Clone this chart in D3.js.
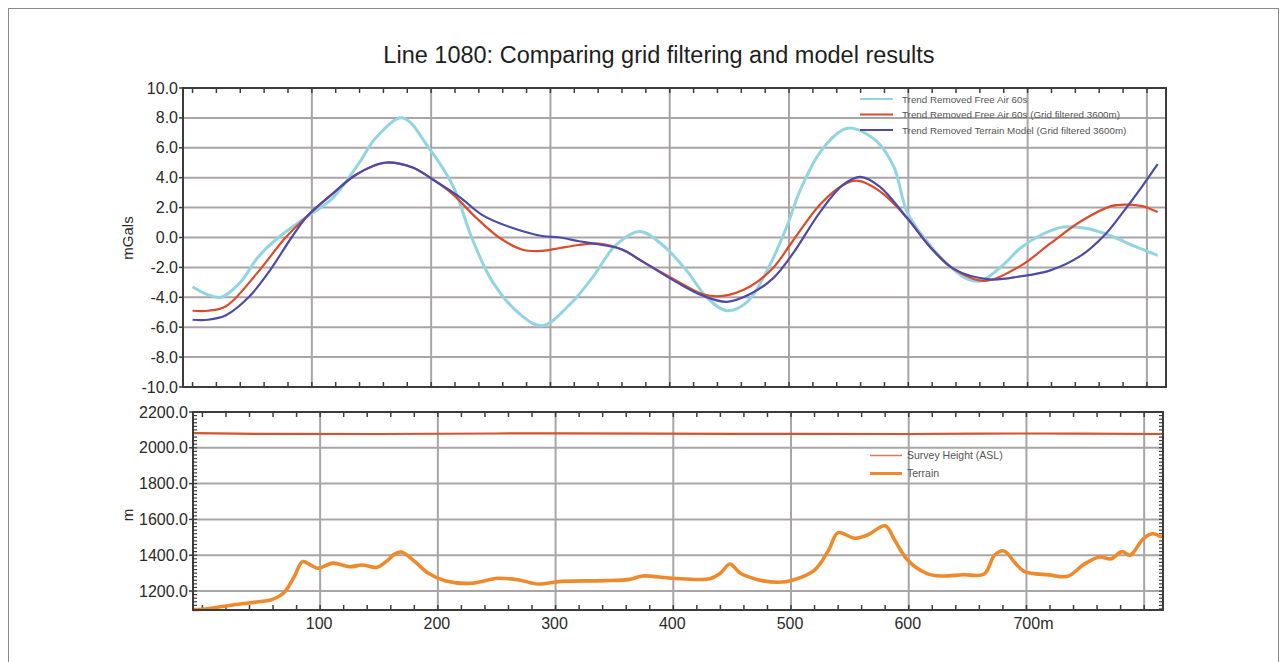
<!DOCTYPE html>
<html><head><meta charset="utf-8">
<script src="https://cdn.jsdelivr.net/npm/d3@7/dist/d3.min.js"></script>
<style>body{margin:0;background:#fff;}svg{display:block;font-family:"Liberation Sans",Arial,sans-serif;}</style>
</head><body>
<svg id="c" width="1287" height="662"></svg>
<script>
// ---------- data ----------
const titleText = "Line 1080: Comparing grid filtering and model results";
const topSeriesNames = ["Trend Removed Free Air 60s","Trend Removed Free Air 60s (Grid filtered 3600m)","Trend Removed Terrain Model (Grid filtered 3600m)"];
const botSeriesNames = ["Survey Height (ASL)","Terrain"];

const freeAirX = [0,12,24,40,55,72,96,117,139,154,176,198,218,234,251,274,293,316,335,355,375,394,414,431,448,465,481,498,509,526,545,554,574,588,599,616,633,650,661,680,694,712,730,750,770,790,809];
const freeAirY = [-3.3,-3.8,-4.0,-3.0,-1.3,0.0,1.4,2.6,4.9,6.7,8.0,6.0,3.5,0.0,-2.9,-5.1,-5.9,-4.5,-2.7,-0.5,0.4,-0.5,-2.2,-4.0,-4.9,-4.3,-2.3,0.7,3.1,5.7,7.2,7.3,6.4,4.7,1.7,-0.3,-1.8,-2.8,-2.9,-1.8,-0.7,0.2,0.7,0.6,0.1,-0.6,-1.2];

const filteredX = [0,13,28,55,78,97,117,137,162,184,201,218,238,257,276,293,308,324,340,360,377,406,428,445,467,487,503,526,545,557,576,599,619,638,663,694,719,745,770,782,796,809];
const filteredY = [-4.9,-4.9,-4.6,-2.3,0.0,1.5,2.9,4.2,5.0,4.7,3.9,2.9,1.3,0.0,-0.8,-0.9,-0.7,-0.5,-0.4,-0.8,-1.6,-2.9,-3.8,-3.9,-3.3,-2.0,-0.25,2.2,3.5,3.8,3.1,1.3,-0.7,-2.1,-2.9,-1.9,-0.4,1.1,2.1,2.2,2.1,1.7];

const modelX = [0,13,28,47,64,83,97,117,137,160,184,201,224,243,266,293,308,324,340,360,377,406,428,448,467,487,503,526,545,560,576,599,619,638,668,694,719,745,765,780,795,809];
const modelY = [-5.5,-5.5,-5.2,-4.0,-2.3,0.0,1.5,2.9,4.2,5.0,4.7,3.9,2.7,1.5,0.7,0.1,0.0,-0.25,-0.45,-0.8,-1.6,-3.0,-3.9,-4.3,-3.8,-2.7,-1.1,1.7,3.5,4.05,3.4,1.3,-0.7,-2.1,-2.8,-2.6,-2.2,-1.2,0.2,1.7,3.3,4.9];

const surveyX = [-8,50,150,300,450,600,700,815];
const surveyY = [2082,2078,2077,2081,2078,2077,2080,2077];

const terrainX = [-8,0,26,48,58,69,78,85,92,98,111,125,136,148,156,163,169,179,192,206,228,251,269,285,305,341,363,374,399,431,440,448,457,471,489,502,520,532,540,554,565,580,588,599,615,628,646,664,673,681,690,698,719,735,749,762,772,781,788,799,807,815];
const terrainY = [1096,1098,1122,1140,1150,1189,1280,1364,1345,1327,1356,1336,1345,1332,1364,1405,1418,1373,1299,1258,1243,1271,1262,1239,1254,1258,1265,1284,1271,1269,1299,1351,1299,1265,1249,1262,1317,1429,1526,1495,1513,1564,1485,1373,1299,1284,1291,1295,1401,1424,1360,1310,1290,1282,1350,1390,1380,1420,1400,1490,1520,1500];

const topYTicks = [-10,-8,-6,-4,-2,0,2,4,6,8,10];
const botYTicks = [1200,1400,1600,1800,2000,2200];
const xTickLabels = [100,200,300,400,500,600,700];
const xGrid = [100,200,300,400,500,600,700,800];

// ---------- layout ----------
const svg = d3.select("#c");
const xT = d3.scaleLinear().domain([-8,816]).range([183,1166]);
const yT = d3.scaleLinear().domain([-10,10]).range([387,88]);
const xB = d3.scaleLinear().domain([-8,816]).range([193,1163]);
const yB = d3.scaleLinear().domain([1094,2200]).range([610,412]);

const gridCol = "#aaa5a5", frameCol = "#3c3c3c", txtCol = "#2a2a2a";

// outer border
svg.append("rect").attr("x",8.5).attr("y",8.5).attr("width",1270).attr("height",700)
  .attr("fill","none").attr("stroke","#8a8a8a").attr("stroke-width",1);

svg.append("text").attr("x",659).attr("y",63).attr("text-anchor","middle")
  .attr("font-size",23.5).attr("fill","#1e1e1e").text(titleText);

function panel(x, y, yTicks, fmt, minorY){
  const g = svg.append("g");
  const [x0,x1] = x.range(), [y0,y1] = [y.range()[1], y.range()[0]];
  g.selectAll(".hg").data(yTicks.filter(v=>y(v)>y0+2 && y(v)<y1-2)).enter().append("line")
    .attr("x1",x0).attr("x2",x1).attr("y1",d=>y(d)).attr("y2",d=>y(d))
    .attr("stroke",gridCol).attr("stroke-width",2);
  g.selectAll(".vg").data(xGrid).enter().append("line")
    .attr("x1",d=>x(d)).attr("x2",d=>x(d)).attr("y1",y0).attr("y2",y1)
    .attr("stroke",gridCol).attr("stroke-width",2);
  const xt = d3.range(0,820,20);
  g.selectAll(".xtb").data(xt).enter().append("line")
    .attr("x1",d=>x(d)).attr("x2",d=>x(d)).attr("y1",y1).attr("y2",y1-5)
    .attr("stroke",frameCol).attr("stroke-width",1.5);
  g.selectAll(".xtt").data(xt).enter().append("line")
    .attr("x1",d=>x(d)).attr("x2",d=>x(d)).attr("y1",y0).attr("y2",y0+5)
    .attr("stroke",frameCol).attr("stroke-width",1.5);
  if(minorY){
    const mt = d3.range(1100,2200,20);
    g.selectAll(".ytl").data(mt).enter().append("line")
      .attr("x1",x0).attr("x2",x0+4).attr("y1",d=>y(d)).attr("y2",d=>y(d))
      .attr("stroke",frameCol).attr("stroke-width",1.2);
    g.selectAll(".ytr").data(mt).enter().append("line")
      .attr("x1",x1).attr("x2",x1-4).attr("y1",d=>y(d)).attr("y2",d=>y(d))
      .attr("stroke",frameCol).attr("stroke-width",1.2);
  }
  g.selectAll(".yo").data(yTicks).enter().append("line")
    .attr("x1",x0-4).attr("x2",x0).attr("y1",d=>y(d)).attr("y2",d=>y(d))
    .attr("stroke",frameCol).attr("stroke-width",1.5);
  g.selectAll(".yl").data(yTicks).enter().append("text")
    .attr("x",x0-5).attr("y",d=>y(d)+5.5).attr("text-anchor","end")
    .attr("font-size",16).attr("fill",txtCol).text(fmt);
  return g;
}

const gTop = panel(xT, yT, topYTicks, d=>d.toFixed(1), false);
const gBot = panel(xB, yB, botYTicks, d=>d.toFixed(1), true);

svg.selectAll(".xl").data(xTickLabels).enter().append("text")
  .attr("x",d=>xB(d)).attr("y",629).attr("text-anchor",d=>d===700?"start":"middle")
  .attr("dx",d=>d===700?-13:-1)
  .attr("font-size",16).attr("fill",txtCol).text(d=>d===700?"700m":String(d));

svg.append("text").attr("transform","translate(133,238) rotate(-90)").attr("text-anchor","middle")
  .attr("font-size",15).attr("fill",txtCol).text("mGals");
svg.append("text").attr("transform","translate(133,515) rotate(-90)").attr("text-anchor","middle")
  .attr("font-size",15).attr("fill",txtCol).text("m");

const topColors = ["#93d4e2","#dc4a2a","#4c4ba6"];
const topWidths = [3,2.2,2.2];
const topData = [[freeAirX,freeAirY],[filteredX,filteredY],[modelX,modelY]];
const lineT = d3.line().x(d=>xT(d[0])).y(d=>yT(d[1])).curve(d3.curveCatmullRom.alpha(0.5));
topData.forEach((s,i)=>{
  const pts = s[0].map((v,k)=>[v,s[1][k]]);
  gTop.append("path").attr("d",lineT(pts)).attr("fill","none")
    .attr("stroke",topColors[i]).attr("stroke-width",topWidths[i]);
});
const lineB = d3.line().x(d=>xB(d[0])).y(d=>yB(d[1])).curve(d3.curveCatmullRom.alpha(0.5));
gBot.append("path").attr("d",lineB(surveyX.map((v,k)=>[v,surveyY[k]]))).attr("fill","none")
  .attr("stroke","#d5522d").attr("stroke-width",2.2);
gBot.append("path").attr("d",lineB(terrainX.map((v,k)=>[v,terrainY[k]]))).attr("fill","none")
  .attr("stroke","#ef8a2c").attr("stroke-width",3.6).attr("stroke-linejoin","round");

[[xT,yT],[xB,yB]].forEach(([x,y])=>{
  svg.append("rect").attr("x",x.range()[0]).attr("y",y.range()[1])
    .attr("width",x.range()[1]-x.range()[0]).attr("height",y.range()[0]-y.range()[1])
    .attr("fill","none").attr("stroke",frameCol).attr("stroke-width",2);
});

const legTop = svg.append("g");
topSeriesNames.forEach((n,i)=>{
  const yy = 99 + i*15.5;
  legTop.append("line").attr("x1",860).attr("x2",893).attr("y1",yy).attr("y2",yy)
    .attr("stroke",topColors[i]).attr("stroke-width",2);
  legTop.append("text").attr("x",902).attr("y",yy+3.5).attr("font-size",9.8).attr("fill","#555").text(n);
});
const botColors = ["#e07a55","#ef8a2c"], botW=[1.5,3];
botSeriesNames.forEach((n,i)=>{
  const yy = 455.5 + i*18;
  svg.append("line").attr("x1",870).attr("x2",902).attr("y1",yy).attr("y2",yy)
    .attr("stroke",botColors[i]).attr("stroke-width",botW[i]);
  svg.append("text").attr("x",907).attr("y",yy+3.5).attr("font-size",10.5).attr("fill","#555").text(n);
});
</script>
</body></html>
